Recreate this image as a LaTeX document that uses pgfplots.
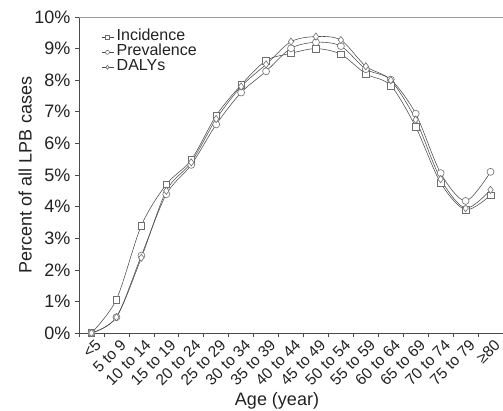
\documentclass[border=0pt]{standalone}
\usepackage{pgfplots}
\usepackage{pgfplotstable}
\pgfplotsset{compat=1.18}
\usepackage{fontspec}
\setmainfont{Liberation Sans}
\definecolor{ln}{HTML}{4A4A4A}
\definecolor{mk}{HTML}{6E6E6E}
\definecolor{txt}{HTML}{222222}

\pgfplotstableread{
x inc prev daly
0 0 0 0
1 1.06 0.50 0.50
2 3.40 2.45 2.38
3 4.70 4.39 4.50
4 5.48 5.32 5.40
5 6.88 6.60 6.77
6 7.85 7.61 7.80
7 8.62 8.28 8.50
8 8.85 9.01 9.22
9 9.00 9.20 9.38
10 8.82 9.08 9.27
11 8.20 8.35 8.44
12 7.83 8.02 8.00
13 6.52 6.94 6.75
14 4.75 5.06 4.87
15 3.90 4.18 3.95
16 4.36 5.10 4.53
}\data

\begin{document}
\begin{tikzpicture}
\begin{axis}[
  name=ax,
  at={(0,0)}, anchor=south west,
  scale only axis,
  width=424bp, height=316bp,
  xmin=-0.5, xmax=16.5,
  ymin=0, ymax=10,
  axis x line*=bottom,
  axis y line*=left,
  axis line style={draw=ln, line width=0.6pt, -},
  xtick={0,...,16},
  xticklabels={<5,5 to 9,10 to 14,15 to 19,20 to 24,25 to 29,30 to 34,35 to 39,40 to 44,45 to 49,50 to 54,55 to 59,60 to 64,65 to 69,70 to 74,75 to 79,≥80},
  major x tick style={draw=none},
  minor xtick={-0.5,0.5,...,15.5},
  minor tick length=4bp,
  minor x tick style={draw=ln, line width=0.6pt},
  xtick pos=bottom,
  ytick={0,...,10},
  yticklabels={0\%,1\%,2\%,3\%,4\%,5\%,6\%,7\%,8\%,9\%,10\%},
  ytick pos=left,
  major tick length=4bp,
  tick align=outside,
  y tick style={draw=ln, line width=0.6pt},
  yticklabel style={font=\fontsize{18bp}{20bp}\selectfont, text=txt, xshift=-1bp},
  xticklabel style={font=\fontsize{15.5bp}{17bp}\selectfont, text=txt, rotate=45, anchor=east, xshift=4.2bp, yshift=-8.8bp},
  xlabel={Age (year)},
  ylabel={Percent of all LPB cases},
  xlabel style={font=\fontsize{18bp}{20bp}\selectfont, text=txt, at={(axis description cs:0.467,-0.228)}, anchor=base},
  ylabel style={font=\fontsize{18bp}{20bp}\selectfont, text=txt, at={(axis description cs:-0.111,0.5)}, anchor=south, inner sep=0pt},
  legend style={draw=none, fill=none, at={(axis description cs:0.052,0.96)}, anchor=north west,
    font=\fontsize{16bp}{15bp}\selectfont, text=txt, row sep=0pt, inner sep=0pt,
    nodes={inner ysep=0pt, inner xsep=3bp, text height=11bp, text depth=4bp}},
  legend cell align=left,
  legend image code/.code={\draw[mark repeat=2,mark phase=2,mark size=2pt] plot coordinates {(0cm,0cm)(0.21cm,0cm)(0.42cm,0cm)};},
  every axis plot/.append style={smooth, tension=0.5, draw=ln, line width=0.55pt,
     mark options={draw=mk, fill=white, line width=0.6pt, solid}},
  clip=false,
]
\addplot[mark=square*, mark size=3.3bp] table[x=x,y=inc] {\data};
\addlegendentry{Incidence}
\addplot[mark=*, mark size=3.5bp] table[x=x,y=prev] {\data};
\addlegendentry{Prevalence}
\addplot[mark=diamond*, mark size=3.6bp] table[x=x,y=daly] {\data};
\addlegendentry{DALYs}
\end{axis}
\draw[color=gray!80, line width=0.6pt] (ax.north west) -- (ax.north east);
\pgfresetboundingbox
\path[use as bounding box] (-79bp,-78bp) rectangle (424bp,333bp);
\end{tikzpicture}
\end{document}
